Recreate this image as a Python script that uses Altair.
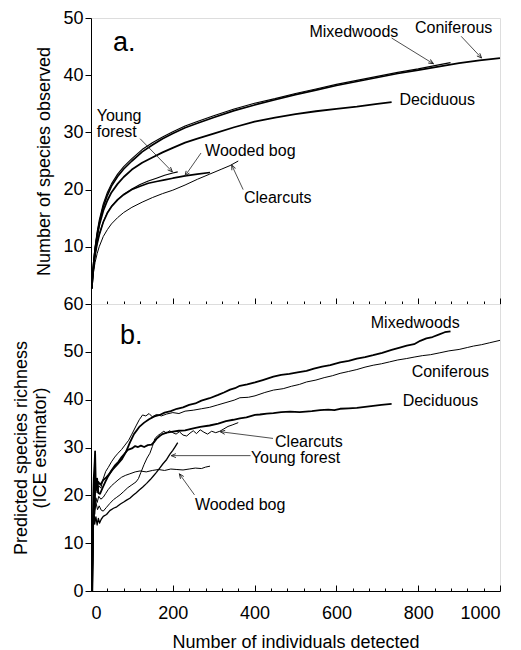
import math
import altair as alt
import pandas as pd

FONT = "Liberation Sans"
W, HT, HB = 409, 286, 287

# ---------------- panel a: species observed (rarefaction) ----------------
a_conif_x = [2, 4, 7, 10, 15, 20, 30, 40, 50, 65, 80, 100, 125, 150, 175, 200, 230, 260, 300, 350, 400, 450, 500, 550, 600, 650, 700, 750, 800, 850, 900, 950, 1000]
a_conif_y = [2.7, 5, 7.5, 9.5, 12, 14, 17, 19, 20.6, 22.3, 23.6, 25, 26.6, 27.8, 28.9, 29.8, 30.8, 31.6, 32.6, 33.8, 34.8, 35.7, 36.6, 37.4, 38.2, 38.9, 39.6, 40.3, 40.9, 41.5, 42.1, 42.6, 43.0]
a_mixed_x = [2, 4, 7, 10, 15, 20, 30, 40, 50, 65, 80, 100, 125, 150, 175, 200, 230, 260, 300, 350, 400, 450, 500, 550, 600, 650, 700, 750, 800, 850, 879]
a_mixed_y = [2.7, 5.2, 7.8, 10, 12.6, 14.6, 17.5, 19.5, 21, 22.7, 24, 25.4, 27, 28.2, 29.2, 30.1, 31.1, 31.9, 32.9, 34.1, 35.1, 35.9, 36.8, 37.6, 38.4, 39.1, 39.8, 40.5, 41.1, 41.8, 42.2]
a_decid_x = [2, 4, 7, 10, 15, 20, 30, 40, 50, 65, 80, 100, 125, 150, 175, 200, 230, 260, 300, 350, 400, 450, 500, 550, 600, 650, 700, 735]
a_decid_y = [2.7, 5, 7.4, 9.3, 11.8, 13.7, 16.3, 18.1, 19.5, 21, 22.2, 23.5, 24.7, 25.6, 26.5, 27.3, 28.2, 28.9, 29.8, 30.9, 31.9, 32.6, 33.2, 33.7, 34.1, 34.5, 35, 35.3]
a_young_x = [2, 4, 7, 10, 15, 20, 30, 40, 50, 65, 80, 100, 120, 140, 160, 180, 200, 212]
a_young_y = [2.7, 4.8, 7, 8.7, 10.7, 12.2, 14.4, 16, 17.1, 18.3, 19.2, 20.1, 20.9, 21.5, 22, 22.5, 22.9, 23.1]
a_bog_x = [2, 4, 7, 10, 15, 20, 30, 40, 50, 65, 80, 100, 120, 140, 160, 180, 200, 230, 260, 291]
a_bog_y = [2.7, 4.6, 6.8, 8.5, 10.5, 12, 14.3, 15.9, 17, 18.2, 19.1, 20, 20.6, 21.1, 21.4, 21.7, 22, 22.4, 22.7, 23]
a_clear_x = [2, 4, 7, 10, 15, 20, 30, 40, 50, 65, 80, 100, 125, 150, 175, 200, 230, 260, 290, 320, 340, 360]
a_clear_y = [2.7, 4.3, 6, 7.3, 8.8, 10, 11.8, 13, 14, 15.1, 16, 16.9, 17.8, 18.6, 19.3, 19.9, 20.8, 21.8, 22.7, 23.6, 24.2, 25]

# ---------------- panel b: ICE estimator ----------------
b_mixed_x = [3, 5, 7, 9, 11, 14, 18, 23, 30, 38, 46, 55, 65, 75, 85, 95, 105, 118, 130, 142, 155, 168, 180, 195, 210, 225, 240, 255, 270, 290, 311, 325, 340, 352, 364, 382, 401, 420, 446, 465, 485, 505, 527, 545, 565, 585, 609, 630, 650, 670, 690, 712, 735, 755, 772, 790, 805, 820, 835, 850, 865, 879]
b_mixed_y = [0, 14, 24, 19, 23, 21.5, 22.8, 22.2, 23.2, 23.8, 24.6, 25.6, 26.5, 27.5, 29, 31, 32.8, 34.3, 35.2, 35.9, 36.5, 36.8, 37.3, 37.6, 38.1, 38.4, 38.9, 39.2, 39.8, 40.3, 41.0, 41.5, 42.1, 42.4, 42.9, 43.2, 43.6, 44.1, 44.8, 45.2, 45.4, 45.7, 46.0, 46.5, 46.9, 47.2, 47.8, 48.1, 48.6, 48.9, 49.3, 49.8, 50.4, 50.9, 51.3, 51.6, 52.3, 52.8, 53.1, 53.6, 54.1, 54.3]
b_conif_x = [3, 5, 7, 9, 12, 15, 19, 24, 30, 36, 42, 50, 58, 66, 75, 83, 92, 100, 110, 118, 126, 134, 142, 150, 160, 172, 185, 200, 215, 230, 250, 270, 290, 310, 330, 350, 364, 385, 401, 425, 446, 470, 490, 510, 527, 550, 570, 590, 609, 630, 650, 670, 690, 710, 730, 750, 772, 790, 810, 830, 853, 875, 900, 920, 935, 955, 975, 1000]
b_conif_y = [0, 12, 21, 18, 22.5, 20.5, 22, 21.5, 23.5, 25, 25.8, 27, 28, 28.8, 29.6, 30.5, 31.5, 32.8, 34.5, 35.8, 36.8, 36.6, 37.1, 36.4, 36.9, 36.6, 37, 37.3, 37.1, 37.6, 37.8, 38.1, 38.4, 38.9, 39.4, 39.9, 40.4, 40.5, 40.8, 41.5, 42, 42.3, 42.8, 43.2, 43.7, 44.1, 44.6, 45, 45.5, 45.9, 46.3, 46.8, 47.2, 47.5, 47.9, 48.3, 48.6, 48.9, 49.2, 49.4, 49.8, 50.2, 50.5, 50.9, 51.2, 51.5, 51.9, 52.4]
b_decid_x = [3, 5, 7, 9, 10, 12, 15, 18, 22, 28, 35, 42, 50, 58, 67, 75, 83, 90, 100, 108, 115, 122, 130, 139, 148, 155, 160, 168, 175, 185, 200, 215, 230, 250, 267, 290, 311, 330, 348, 364, 380, 401, 413, 430, 446, 465, 487, 510, 540, 560, 580, 595, 609, 630, 650, 670, 690, 710, 735]
b_decid_y = [0, 15, 24, 27, 29.2, 21, 23.5, 20.5, 20.3, 21.5, 22.8, 24, 25.2, 26.2, 27, 28, 28.8, 29.5, 29.8, 30.3, 30.1, 30.4, 30.1, 30.5, 30.6, 31.2, 31.8, 32.4, 32.8, 33.1, 33.3, 33.5, 33.6, 34, 34.3, 34.6, 35.0, 35.5, 35.8, 36.1, 36.3, 36.8, 36.9, 37.1, 37.2, 37.4, 37.5, 37.4, 37.6, 37.8, 37.9, 37.8, 38.1, 38.2, 38.3, 38.5, 38.7, 38.9, 39.1]
b_clear_x = [3, 5, 7, 9, 12, 16, 20, 25, 30, 38, 46, 55, 63, 71, 80, 90, 100, 110, 116, 122, 130, 137, 144, 150, 156, 162, 170, 178, 185, 192, 200, 208, 216, 225, 234, 242, 250, 258, 267, 276, 285, 295, 305, 315, 325, 335, 345, 360]
b_clear_y = [0, 12, 19, 16, 18.5, 17, 17.8, 16.9, 16.7, 17.5, 18.3, 19.1, 19.6, 20.1, 20.8, 21.6, 22.2, 22.8, 23.5, 24.8, 26.5, 27.8, 28.8, 30.2, 31.8, 32.4, 32.9, 33.4, 33.0, 33.5, 33.1, 32.8, 33.3, 32.6, 32.4, 33.0, 33.5, 32.9, 33.7, 33.2, 32.8, 33.4, 33.1, 33.4, 33.9, 34.4, 34.7, 35.2]
b_young_x = [3, 5, 7, 9, 12, 15, 18, 21, 25, 30, 38, 46, 55, 63, 72, 80, 87, 95, 103, 110, 118, 126, 136, 145, 153, 160, 168, 176, 185, 193, 200, 206, 212]
b_young_y = [0, 10, 18, 14, 15.5, 13.8, 15.2, 14.2, 15, 15.6, 16, 16.8, 17.3, 17.6, 18.2, 18.6, 19, 19.4, 20, 20.5, 21.1, 21.7, 22.5, 23.3, 24.1, 24.8, 25.7, 26.6, 27.5, 28.6, 29.4, 30.2, 31]
b_bog_x = [3, 5, 7, 9, 12, 15, 19, 24, 30, 36, 42, 50, 58, 66, 75, 85, 95, 108, 120, 135, 150, 165, 180, 195, 210, 225, 240, 255, 270, 280, 291]
b_bog_y = [0, 13, 21, 17, 19.5, 18.5, 19.8, 19.2, 19.6, 20.4, 21.2, 22, 22.6, 23.2, 23.8, 24.2, 24.5, 24.9, 25.1, 24.9, 25.2, 25.4, 25.2, 25.5, 25.4, 25.3, 25.5, 25.7, 25.6, 25.9, 26.1]

# ---------------- annotation labels (data coordinates) ----------------
a_lab_text = ["Young", "forest", "Wooded bog", "Clearcuts", "Deciduous", "Mixedwoods", "Coniferous"]
a_lab_x = [14, 14, 279, 374, 754, 534, 792]
a_lab_y = [32.9, 30.0, 26.8, 18.6, 35.6, 47.5, 48.3]
a_lead_x0 = [120, 269, 372, 735, 905]
a_lead_y0 = [28.9, 26.4, 20.0, 46.5, 46.8]
a_lead_x1 = [199, 230, 344, 837, 955]
a_lead_y1 = [23.1, 22.4, 24.3, 42.0, 43.0]

b_lab_text = ["Mixedwoods", "Coniferous", "Deciduous", "Clearcuts", "Young forest", "Wooded bog"]
b_lab_x = [684, 784, 762, 450, 391, 254]
b_lab_y = [56.1, 45.7, 39.7, 31.25, 27.8, 17.9]
b_lead_x0 = [445, 390, 253]
b_lead_y0 = [31.9, 28.3, 20.1]
b_lead_x1 = [316, 196, 216]
b_lead_y1 = [33.3, 28.3, 24.5]

panel_letters = ["a.", "b."]
panel_letter_x = [54, 71]
panel_letter_y = [44.2, 51.6]

x_ticks_major = [0, 200, 400, 600, 800, 1000]
x_ticks_all = list(range(0, 1001, 40))
ya_ticks = [10, 20, 30, 40, 50]
yb_ticks = [0, 10, 20, 30, 40, 50, 60]


def series_df(items):
    rows = []
    for name, xs, ys, w in items:
        assert len(xs) == len(ys), name
        for i, (x, y) in enumerate(zip(xs, ys)):
            rows.append({"s": name, "x": x, "y": y, "w": w, "i": i})
    return pd.DataFrame(rows)


def arrow_angle(x0, y0, x1, y1, ymax, h):
    dx = (x1 - x0) * W / 1000.0
    dy = -(y1 - y0) * h / ymax
    return math.degrees(math.atan2(dy, dx)) % 360


df_a = series_df([
    ("Coniferous", a_conif_x, a_conif_y, 1.7),
    ("Mixedwoods", a_mixed_x, a_mixed_y, 1.1),
    ("Deciduous", a_decid_x, a_decid_y, 1.8),
    ("Young forest", a_young_x, a_young_y, 1.1),
    ("Wooded bog", a_bog_x, a_bog_y, 1.6),
    ("Clearcuts", a_clear_x, a_clear_y, 1.0),
])
df_b = series_df([
    ("Mixedwoods", b_mixed_x, b_mixed_y, 1.8),
    ("Coniferous", b_conif_x, b_conif_y, 1.0),
    ("Deciduous", b_decid_x, b_decid_y, 1.8),
    ("Clearcuts", b_clear_x, b_clear_y, 1.0),
    ("Young forest", b_young_x, b_young_y, 1.3),
    ("Wooded bog", b_bog_x, b_bog_y, 1.0),
])

lab_a = pd.DataFrame({"t": a_lab_text, "x": a_lab_x, "y": a_lab_y})
lab_b = pd.DataFrame({"t": b_lab_text, "x": b_lab_x, "y": b_lab_y})
lead_a = pd.DataFrame({"x": a_lead_x0, "y": a_lead_y0, "x2": a_lead_x1, "y2": a_lead_y1})
lead_b = pd.DataFrame({"x": b_lead_x0, "y": b_lead_y0, "x2": b_lead_x1, "y2": b_lead_y1})
lead_a["a"] = [arrow_angle(r.x, r.y, r.x2, r.y2, 50, HT) for r in lead_a.itertuples()]
lead_b["a"] = [arrow_angle(r.x, r.y, r.x2, r.y2, 60, HB) for r in lead_b.itertuples()]
let_a = pd.DataFrame({"t": [panel_letters[0]], "x": [panel_letter_x[0]], "y": [panel_letter_y[0]]})
let_b = pd.DataFrame({"t": [panel_letters[1]], "x": [panel_letter_x[1]], "y": [panel_letter_y[1]]})

x_scale = alt.Scale(domain=[0, 1000], nice=False, zero=False)
ya_scale = alt.Scale(domain=[0, 50], nice=False)
yb_scale = alt.Scale(domain=[0, 60], nice=False)

tick_size = {"condition": {"test": "datum.value % 200 === 0", "value": 6}, "value": 3}

common_axis = dict(grid=False, domainColor="black", tickColor="black", labelColor="black",
                   titleColor="black", labelFont=FONT, titleFont=FONT, labelFontSize=18,
                   titleFontSize=18, titleFontWeight="normal", domainWidth=1, tickWidth=1)


def inner_ticks_axis(h, domain):
    return alt.Axis(orient="top", offset=-h, values=x_ticks_all, labels=False, title=None,
                    domain=domain, ticks=True, tickSize=tick_size, **common_axis)


ya_axis = alt.Axis(values=ya_ticks, title="Number of species observed", tickSize=6,
                   labelPadding=2, titlePadding=9, **common_axis)
yb_axis = alt.Axis(values=yb_ticks, title=["Predicted species richness", "(ICE estimator)"],
                   tickSize=6, labelPadding=2, titlePadding=13, titleLineHeight=19, **common_axis)
xa_axis = inner_ticks_axis(HT, True)
xb_ticks_axis = inner_ticks_axis(HB, False)
xb_axis = alt.Axis(orient="bottom", values=x_ticks_major, format="d", ticks=False, tickSize=0,
                   labelPadding=13, title="Number of individuals detected", titlePadding=11,
                   **common_axis)

ARROW = "M -1 -0.42 L 0 0 L -1 0.42"


def panel(df, labs, leads, letter, yscale, yaxis, xaxis_lines, xaxis_ticks, xaxis_other):
    X = lambda f, ax: alt.X(f, type="quantitative", scale=x_scale, axis=ax)
    Y = lambda f: alt.Y(f, type="quantitative", scale=yscale, axis=yaxis)
    lines = alt.Chart(df).mark_line(color="black", strokeJoin="round").encode(
        x=X("x", xaxis_lines), y=Y("y"), detail="s:N",
        strokeWidth=alt.StrokeWidth("w:Q", scale=None), order="i:Q")
    texts = alt.Chart(labs).mark_text(align="left", baseline="middle", font=FONT,
                                      fontSize=16, color="black").encode(
        x=X("x", xaxis_ticks), y=Y("y"), text="t:N")
    rules = alt.Chart(leads).mark_rule(color="#222222", strokeWidth=0.8).encode(
        x=X("x", xaxis_other), y=Y("y"), x2="x2:Q", y2="y2:Q")
    heads = alt.Chart(leads).mark_point(shape=ARROW, filled=False, size=90, color="#222222",
                                        strokeWidth=0.9, opacity=1).encode(
        x=X("x2", xaxis_other), y=Y("y2"), angle=alt.Angle("a:Q", scale=None))
    lett = alt.Chart(letter).mark_text(align="left", baseline="alphabetic", font=FONT,
                                       fontSize=27, color="black").encode(
        x=X("x", xaxis_other), y=Y("y"), text="t:N")
    return lines, texts, rules, heads, lett


top_layers = panel(df_a, lab_a, lead_a, let_a, ya_scale, ya_axis, xa_axis, xa_axis, xa_axis)
top = alt.layer(*top_layers).properties(width=W, height=HT)

bot_layers = panel(df_b, lab_b, lead_b, let_b, yb_scale, yb_axis, xb_axis, xb_ticks_axis, None)
bottom = alt.layer(*bot_layers).resolve_axis(x="independent").properties(width=W, height=HB)

chart = alt.vconcat(top, bottom, spacing=0, bounds="flush").properties(
    padding={"left": 4, "top": 0, "right": 0, "bottom": 0}
).configure_view(stroke=None).configure(background="white")

chart.save("out.html", embed_options={"renderer": "svg", "actions": False})
